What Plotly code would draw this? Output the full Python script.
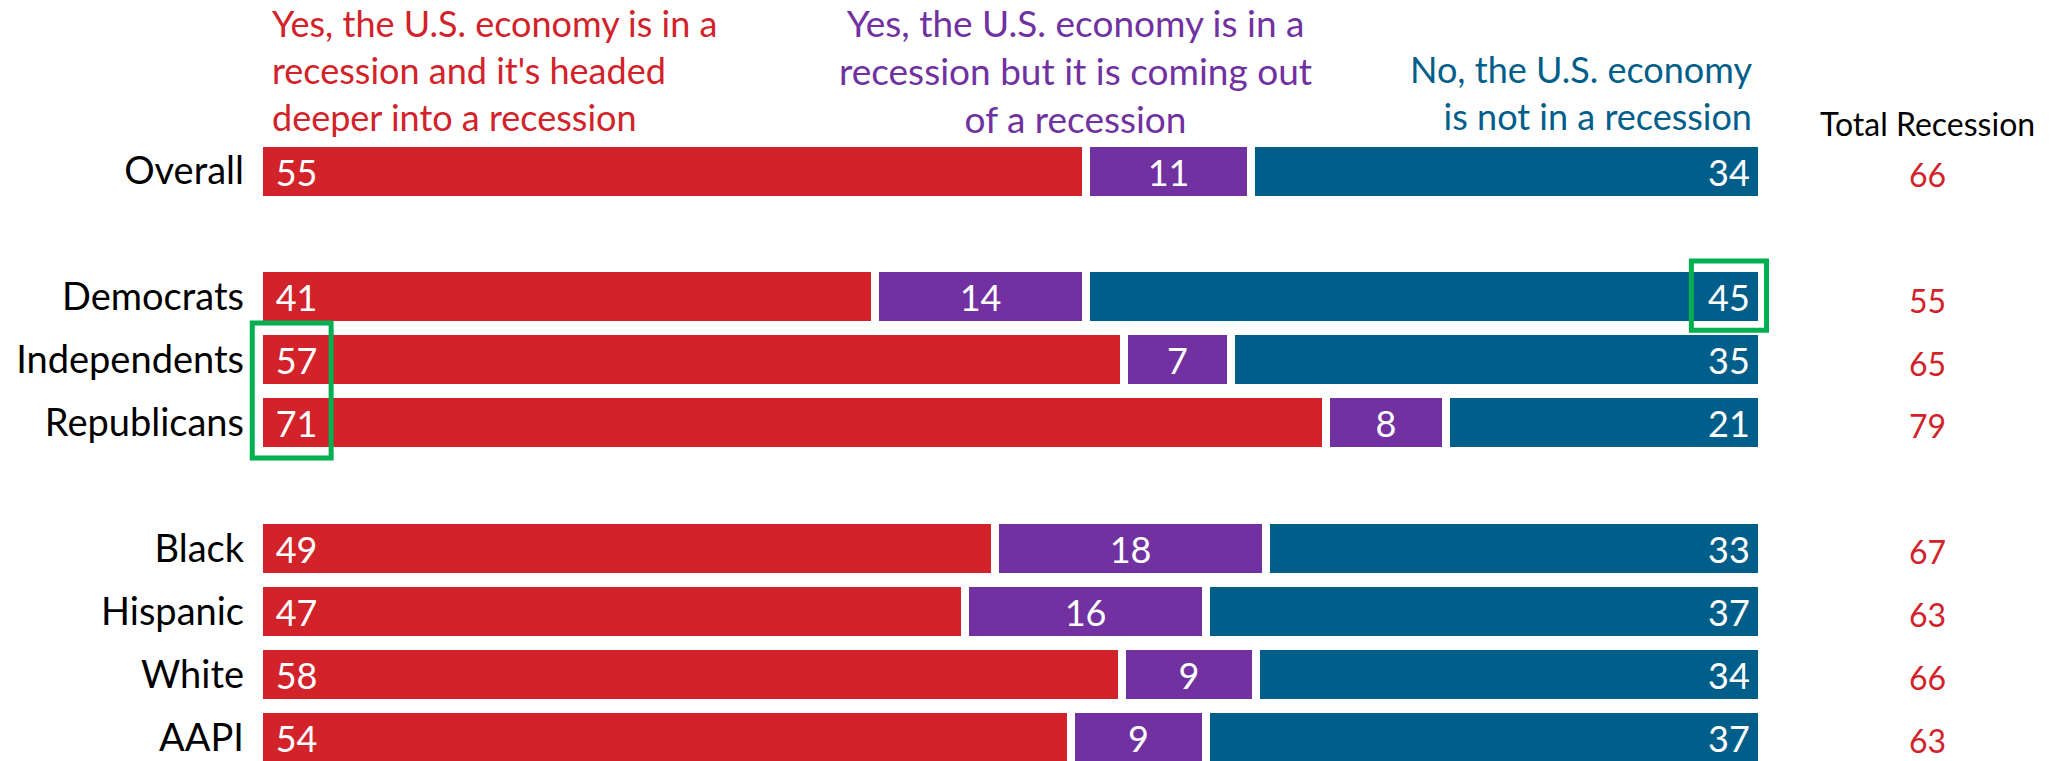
import plotly.graph_objects as go

groups = ["Overall", "Democrats", "Independents", "Republicans", "Black", "Hispanic", "White", "AAPI"]
row_pos = [0, 2, 3, 4, 6, 7, 8, 9]
deeper = [55, 41, 57, 71, 49, 47, 58, 54]
coming_out = [11, 14, 7, 8, 18, 16, 9, 9]
not_in = [34, 45, 35, 21, 33, 37, 34, 37]
total_recession = [66, 55, 65, 79, 67, 63, 66, 63]

series_names = [
    "Yes, the U.S. economy is in a<br>recession and it's headed<br>deeper into a recession",
    "Yes, the U.S. economy is in a<br>recession but it is coming out<br>of a recession",
    "No, the U.S. economy<br>is not in a recession",
]
colors = ["#d2222a", "#7131a1", "#005e8a"]
anchors = ["start", "middle", "end"]
templates = ["\u00a0\u2009%{customdata}", "%{customdata}", "%{customdata}\u00a0"]
FONT = "Lato"

# bars are drawn as shares of each row's total (rows sum to 100 in the chart)
row_sums = [a + b + c for a, b, c in zip(deeper, coming_out, not_in)]

fig = go.Figure()
for vals, name, col, anc, tpl in zip([deeper, coming_out, not_in], series_names, colors, anchors, templates):
    shares = [100.0 * v / s for v, s in zip(vals, row_sums)]
    fig.add_trace(go.Bar(
        x=shares, y=row_pos, orientation="h", name=name,
        customdata=vals,
        marker=dict(color=col, line=dict(color="white", width=8)),
        width=0.905,
        texttemplate=tpl, textposition="inside",
        insidetextanchor=anc, constraintext="none",
        textfont=dict(family=FONT, size=36, color="white"),
        hoverinfo="skip",
    ))

# Column headers
fig.add_annotation(x=0.7, y=-1.60, xref="x", yref="y", text=series_names[0],
                   showarrow=False, xanchor="left", yanchor="middle", align="left",
                   font=dict(family=FONT, size=36, color=colors[0]))
fig.add_annotation(x=54.3, y=-1.60, xref="x", yref="y", text=series_names[1],
                   showarrow=False, xanchor="center", yanchor="middle", align="center",
                   font=dict(family=FONT, size=37, color=colors[1]))
fig.add_annotation(x=99.5, y=-1.25, xref="x", yref="y", text=series_names[2],
                   showarrow=False, xanchor="right", yanchor="middle", align="right",
                   font=dict(family=FONT, size=36, color=colors[2]))

# Total recession column
fig.add_annotation(x=111.0, y=-0.76, xref="x", yref="y", text="Total Recession",
                   showarrow=False, xanchor="center", yanchor="middle",
                   font=dict(family=FONT, size=32, color="black"))
for yp, v in zip(row_pos, total_recession):
    fig.add_annotation(x=111.0, y=yp + 0.05, xref="x", yref="y", text=str(v),
                       showarrow=False, xanchor="center", yanchor="middle",
                       font=dict(family=FONT, size=32, color=colors[0]))

# Highlight boxes
green = "#00b050"
dem = row_pos[groups.index("Democrats")]
fig.add_shape(type="rect", xref="x", yref="y", x0=95.3, x1=100.3,
              y0=dem - 0.57, y1=dem + 0.53, line=dict(color=green, width=5))
ind = row_pos[groups.index("Independents")]
rep = row_pos[groups.index("Republicans")]
fig.add_shape(type="rect", xref="x", yref="y", x0=-0.45, x1=4.8,
              y0=ind - 0.585, y1=rep + 0.56, line=dict(color=green, width=5))

fig.update_layout(
    width=2056, height=761,
    margin=dict(l=247, r=0, t=0, b=0),
    barmode="stack", bargap=0,
    showlegend=False,
    plot_bgcolor="white", paper_bgcolor="white",
    xaxis=dict(range=[-0.798, 119.56], visible=False, fixedrange=True),
    yaxis=dict(range=[9.373, -2.717], tickvals=row_pos, ticktext=groups,
               showgrid=False, zeroline=False, showline=False, ticks="",
               ticklabelstandoff=2,
               tickfont=dict(family=FONT, size=38, color="black")),
)

fig.write_html("out.html")
